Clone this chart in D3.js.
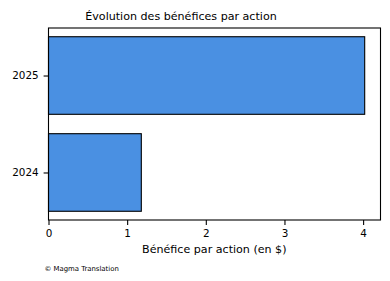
<!DOCTYPE html>
<html><head><meta charset="utf-8">
<script src="https://cdn.jsdelivr.net/npm/d3@7"></script>
<style>body{margin:0;background:#fff}svg{display:block}text{font-family:"DejaVu Sans",sans-serif;fill:#000}</style>
</head><body>
<svg id="c" width="390" height="281"></svg>
<script>
const categories = ["2024", "2025"];
const values = [1.18, 4.02];
const xTicks = [0, 1, 2, 3, 4];
const title = "Évolution des bénéfices par action";
const xLabel = "Bénéfice par action (en $)";
const credit = "© Magma Translation";

const svg = d3.select("#c");
const m = {l: 48.5, r: 380.5, t: 28, b: 220};
const x = d3.scaleLinear().domain([0, d3.max(values) * 1.05]).range([m.l, m.r]);
const y = d3.scaleLinear().domain([-0.49, 1.49]).range([m.b, m.t]);
const bh = 0.8;

svg.selectAll("rect.bar").data(categories).join("rect")
  .attr("class", "bar")
  .attr("x", x(0))
  .attr("y", (d, i) => y(i + bh / 2))
  .attr("width", (d, i) => x(values[i]) - x(0))
  .attr("height", (d, i) => y(i - bh / 2) - y(i + bh / 2))
  .attr("fill", "#4A90E2").attr("stroke", "#000").attr("stroke-width", 1.1);

svg.append("rect").attr("x", m.l).attr("y", m.t).attr("width", m.r - m.l).attr("height", m.b - m.t)
  .attr("fill", "none").attr("stroke", "#000").attr("stroke-width", 1.1);

const xa = svg.append("g").attr("transform", `translate(0,${m.b})`)
  .call(d3.axisBottom(x).tickValues(xTicks).tickFormat(d3.format("d")).tickSize(4.9).tickPadding(4.6));
xa.select(".domain").remove();
xa.selectAll("line").attr("stroke-width", 1.1);
xa.selectAll("text").attr("font-size", 10.4).style("font-family", "DejaVu Sans");

const ya = svg.append("g").attr("transform", `translate(${m.l},0)`)
  .call(d3.axisLeft(y).tickValues(categories.map((d, i) => i)).tickFormat(i => categories[i]).tickSize(4.9).tickPadding(4.9));
ya.select(".domain").remove();
ya.selectAll("line").attr("stroke-width", 1.1);
ya.selectAll("text").attr("font-size", 10.4).style("font-family", "DejaVu Sans");

svg.append("text").attr("x", 181).attr("y", 20).attr("text-anchor", "middle").attr("font-size", 11.1).text(title);
svg.append("text").attr("x", 214.3).attr("y", 253).attr("text-anchor", "middle").attr("font-size", 11.1).text(xLabel);
svg.append("text").attr("x", 44.5).attr("y", 270.5).attr("font-size", 6.9).text(credit);
</script>
</body></html>
